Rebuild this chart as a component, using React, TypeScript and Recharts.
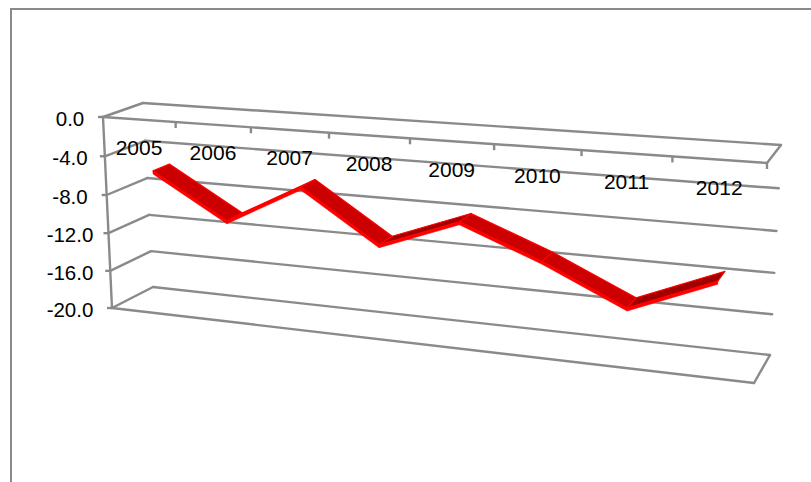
import React from 'react';
import { ComposedChart, CartesianGrid, Line, XAxis, YAxis } from 'recharts';

const years = ['2005', '2006', '2007', '2008', '2009', '2010', '2011', '2012'];
const changes = [-5.7, -10.2, -6.1, -11.2, -8.2, -11.3, -15.0, -11.6];
const valueTicks = [0, -4, -8, -12, -16, -20];

const GRAY = '#8a8a8a';
const PLOT = { left: 100, top: 100, width: 600, height: 260 };

// corners of the 3D box on screen: [depth][value][category]
const BOX = [
  [[[103, 117], [767, 163]], [[112, 308], [754, 383]]],
  [[[143, 103], [781, 145]], [[153, 287], [770, 355]]],
];
const RIBBON_FRONT = 0.29;
const RIBBON_BACK = 0.71;
const RIM = 3;

// perspective blend of the box corners; u along categories, v down the values, d into the page
const project = (u: number, v: number, d: number) => {
  let sx = 0;
  let sy = 0;
  let sw = 0;
  for (const di of [0, 1]) {
    for (const vi of [0, 1]) {
      for (const ui of [0, 1]) {
        const basis = (di ? d : 1 - d) * (vi ? v : 1 - v) * (ui ? u : 1 - u);
        const w = basis * (1 - 0.14 * ui + 0.04 * di + 0.035 * vi);
        const [px, py] = BOX[di][vi][ui];
        sx += px * w;
        sy += py * w;
        sw += w;
      }
    }
  }
  return [sx / sw, sy / sw];
};

const toU = (x: number) => (x - PLOT.left) / PLOT.width;
const toV = (y: number) => (y - PLOT.top) / PLOT.height;

const Seg = ({ a, b }: { a: number[]; b: number[] }) => (
  <line x1={a[0]} y1={a[1]} x2={b[0]} y2={b[1]} stroke={GRAY} strokeWidth={2.4} strokeLinecap="round" />
);

const GridLine = (props: any) => {
  const v = toV(props.y1);
  const isEdge = v < 0.001 || v > 0.999;
  return (
    <g key={props.key ?? props.y1}>
      <Seg a={project(0, v, 0)} b={project(0, v, 1)} />
      <Seg a={project(0, v, 1)} b={project(1, v, 1)} />
      {isEdge && <Seg a={project(0, v, 0)} b={project(1, v, 0)} />}
      {isEdge && <Seg a={project(1, v, 0)} b={project(1, v, 1)} />}
      {v < 0.001 && <Seg a={project(0, 0, 0)} b={project(0, 1, 0)} />}
    </g>
  );
};

const ValueTick = ({ y, payload }: any) => {
  const [px, py] = project(0, toV(y), 0);
  return (
    <g>
      <line x1={px - 5} y1={py} x2={px} y2={py} stroke={GRAY} strokeWidth={2.4} />
      <text x={70} y={py + 1.5} textAnchor="middle" dominantBaseline="central" fontFamily="Liberation Sans" fontSize={20.5} fill="#000">
        {payload.value.toFixed(1)}
      </text>
    </g>
  );
};

const YearTick = ({ x, payload }: any) => {
  const u = toU(x);
  const slot = 0.5 / years.length;
  const [lx, ly] = project(u, 0, 0);
  const [tx, ty] = project(u + slot, 0, 0);
  return (
    <g>
      <line x1={tx} y1={ty} x2={tx} y2={ty + 6} stroke={GRAY} strokeWidth={2.4} />
      <text x={lx} y={ly + 28} textAnchor="middle" dominantBaseline="central" fontFamily="Liberation Sans" fontSize={21} fill="#000">
        {payload.value}
      </text>
    </g>
  );
};

// one ribbon section per point, running on to the next point
const RibbonDot = ({ index, cx, cy, points }: any) => {
  const next = points?.[index + 1];
  if (!next) return <g key={index} />;
  const u0 = toU(cx);
  const v0 = toV(cy);
  const u1 = toU(next.x);
  const v1 = toV(next.y);
  const f0 = project(u0, v0, RIBBON_FRONT);
  const f1 = project(u1, v1, RIBBON_FRONT);
  const b0 = project(u0, v0, RIBBON_BACK);
  const b1 = project(u1, v1, RIBBON_BACK);
  const falling = v1 > v0;
  const pts = (list: number[][]) => list.map((p) => p.join(',')).join(' ');
  return (
    <g key={index}>
      <polygon
        points={pts([f0, f1, b1, b0])}
        fill={falling ? '#cc0000' : '#a00000'}
        stroke="#ff0000"
        strokeWidth={1.2}
        strokeLinejoin="round"
      />
      <polygon
        points={pts([f0, f1, [f1[0], f1[1] + RIM], [f0[0], f0[1] + RIM]])}
        fill="#ff0000"
        stroke="#ff0000"
        strokeWidth={0.6}
      />
    </g>
  );
};

const rows = years.map((year, i) => ({ year, change: changes[i] }));

export default function App() {
  return (
    <div style={{ position: 'absolute', left: 0, top: 0, width: 811, height: 482, overflow: 'hidden', background: '#fff' }}>
      <div
        style={{
          position: 'absolute',
          left: 10,
          top: 8,
          width: 900,
          height: 600,
          borderLeft: `2px solid ${GRAY}`,
          borderTop: `2px solid ${GRAY}`,
        }}
      />
      <div style={{ position: 'absolute', left: 0, top: 0 }}>
        <ComposedChart
          width={811}
          height={482}
          data={rows}
          margin={{ left: 40, top: PLOT.top, right: 811 - PLOT.left - PLOT.width, bottom: 482 - PLOT.top - PLOT.height - 30 }}
        >
          <CartesianGrid vertical={false} horizontal={GridLine} />
          <XAxis dataKey="year" scale="band" height={30} interval={0} axisLine={false} tickLine={false} tick={YearTick} />
          <YAxis
            type="number"
            domain={[-20, 0]}
            ticks={valueTicks}
            width={60}
            interval={0}
            axisLine={false}
            tickLine={false}
            tick={ValueTick}
          />
          <Line dataKey="change" stroke="none" dot={RibbonDot} activeDot={false} isAnimationActive={false} />
        </ComposedChart>
      </div>
    </div>
  );
}
